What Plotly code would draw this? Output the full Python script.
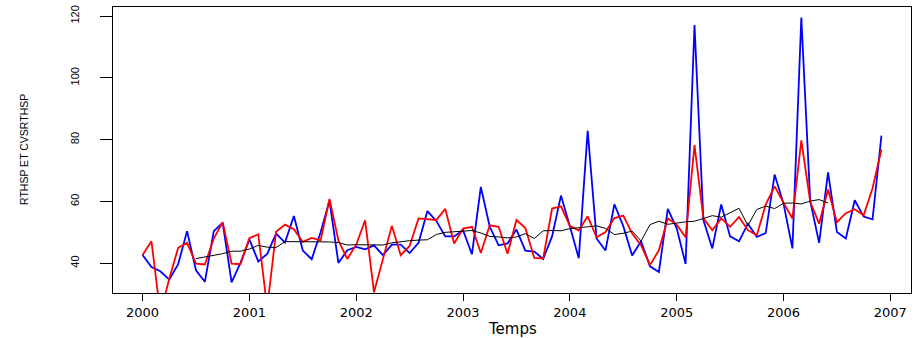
import plotly.graph_objects as go

# Monthly series, Jan 2000 .. Dec 2006
start_year = 2000
rthsp = [
    42.7, 38.8, 37.4, 34.7, 39.7, 50.4, 37.7, 34.0, 50.4, 53.1, 33.8, 40.1,
    47.7, 40.6, 43.0, 49.6, 46.7, 55.3, 44.1, 41.3, 50.0, 60.2, 40.1, 44.2,
    45.3, 44.5, 45.8, 42.6, 46.0, 46.0, 43.3, 46.6, 56.9, 53.7, 48.7, 48.7,
    50.7, 42.9, 64.7, 51.8, 45.8, 46.4, 50.9, 44.1, 43.8, 41.4, 48.7, 61.9,
    52.0, 41.6, 82.9, 48.0, 44.1, 59.1, 52.0, 42.5, 47.1, 39.0, 37.2, 57.6,
    51.3, 39.8, 117.1, 54.0, 44.8, 59.0, 48.7, 47.1, 52.8, 48.5, 49.8, 68.7,
    59.3, 44.8, 119.5, 60.1, 46.6, 69.4, 50.1, 48.0, 60.4, 55.1, 54.2, 81.3,
]
cvsrthsp = [
    42.7, 47.1, 23.7, 35.0, 45.0, 46.6, 39.9, 39.6, 48.0, 53.3, 39.9, 39.7,
    48.1, 49.4, 25.5, 50.2, 52.5, 51.0, 46.9, 48.2, 47.4, 60.8, 47.4, 41.4,
    46.0, 53.9, 30.6, 41.5, 52.1, 42.6, 45.6, 54.5, 54.3, 54.0, 57.6, 46.4,
    51.2, 51.8, 43.3, 52.3, 51.8, 43.1, 54.0, 51.4, 41.7, 41.5, 57.7, 58.4,
    52.1, 50.6, 55.2, 48.4, 50.1, 54.6, 55.4, 49.6, 45.8, 39.4, 44.2, 54.5,
    52.5, 48.4, 78.2, 54.6, 50.7, 54.5, 51.8, 55.0, 50.7, 49.1, 59.0, 64.9,
    59.6, 54.5, 79.8, 59.9, 52.8, 63.9, 53.3, 56.2, 57.5, 55.5, 64.3, 76.8,
]
# centred moving-average trend, Jul 2000 .. Jun 2006
trend_start_month = 6
trend = [
    41.5, 42.0, 42.6, 43.1, 43.9, 43.9,
    44.6, 45.8, 45.2, 45.1, 47.0, 47.0, 46.9, 47.1, 47.1, 46.9, 46.7, 45.9,
    46.0, 46.0, 45.8, 45.9, 46.6, 47.0, 47.3, 47.5, 47.6, 49.3, 50.0, 50.2,
    50.4, 50.6, 49.8, 48.7, 48.5, 48.2, 48.5, 49.6, 48.0, 50.5, 50.6, 50.5,
    51.2, 51.6, 51.8, 52.1, 51.3, 49.3, 49.7, 50.4, 47.2, 52.5, 53.6, 52.6,
    53.1, 53.4, 53.6, 54.5, 55.4, 54.9, 56.4, 57.8, 52.2, 57.4, 58.5, 57.7,
    59.4, 59.5, 59.2, 60.1, 60.6, 59.5,
]
x_ticks = [2000, 2001, 2002, 2003, 2004, 2005, 2006, 2007]
y_ticks = [40, 60, 80, 100, 120]

t_main = [start_year + i / 12 for i in range(len(rthsp))]
t_trend = [start_year + (trend_start_month + i) / 12 for i in range(len(trend))]

# R-style 4% range extension
x0, x1 = t_main[0], t_main[-1]
xr = [x0 - 0.04 * (x1 - x0), x1 + 0.04 * (x1 - x0)]
y0, y1 = min(rthsp), max(rthsp)
yr = [y0 - 0.04 * (y1 - y0), y1 + 0.04 * (y1 - y0)]

fig = go.Figure()
fig.add_trace(go.Scatter(x=t_main, y=rthsp, mode="lines",
                         line=dict(color="#0000FF", width=1.8)))
fig.add_trace(go.Scatter(x=t_main, y=cvsrthsp, mode="lines",
                         line=dict(color="#FF0000", width=1.8)))
fig.add_trace(go.Scatter(x=t_trend, y=trend, mode="lines",
                         line=dict(color="#000000", width=1)))

sans = "Liberation Sans, Arial, sans-serif"
wide = "DejaVu Sans, Verdana, sans-serif"

fig.update_layout(
    width=914, height=338,
    margin=dict(l=113, r=3, t=7, b=45),
    plot_bgcolor="white", paper_bgcolor="white",
    showlegend=False,
    xaxis=dict(range=xr, tickvals=x_ticks, ticktext=[str(v) for v in x_ticks],
               ticks="outside", ticklen=7, tickcolor="black", tickwidth=1,
               showline=True, mirror=True, linecolor="black", linewidth=1,
               showgrid=False, zeroline=False,
               tickfont=dict(family=wide, size=13, color="black")),
    yaxis=dict(range=yr, tickvals=y_ticks, ticktext=[str(v) for v in y_ticks],
               ticks="outside", ticklen=12, tickcolor="black", tickwidth=1,
               tickangle=-90, ticklabelstandoff=17,
               showline=True, mirror=True, linecolor="black", linewidth=1,
               showgrid=False, zeroline=False,
               tickfont=dict(family=sans, size=11, color="black")),
    annotations=[
        dict(text="RTHSP ET CVSRTHSP", xref="paper", yref="paper", x=0, y=0.5,
             xanchor="center", yanchor="middle", xshift=-89, textangle=-90,
             showarrow=False, font=dict(family=sans, size=10.5, color="black")),
        dict(text="Temps", xref="paper", yref="paper", x=0.5, y=0,
             xanchor="center", yanchor="middle", yshift=-36,
             showarrow=False, font=dict(family=wide, size=15, color="black")),
    ],
)

fig.write_html("out.html")
